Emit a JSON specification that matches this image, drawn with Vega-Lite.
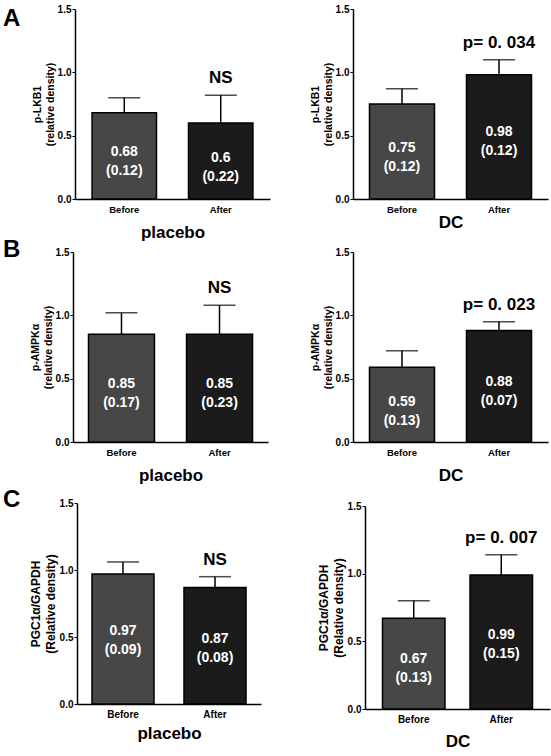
{
  "$schema": "https://vega.github.io/schema/vega-lite/v6.json",
  "autosize": {"type": "none"},
  "padding": {"left": 73, "top": 9, "right": 478, "bottom": 747},
  "columns": 2,
  "spacing": {"row": 43, "column": 83},
  "bounds": "flush",
  "data": {"values": [
    {"marker": "LKB1", "group": "placebo", "time": "Before", "mean": 0.68, "sem": 0.12, "note": ""},
    {"marker": "LKB1", "group": "placebo", "time": "After", "mean": 0.6, "sem": 0.22, "note": "NS"},
    {"marker": "LKB1", "group": "DC", "time": "Before", "mean": 0.75, "sem": 0.12, "note": ""},
    {"marker": "LKB1", "group": "DC", "time": "After", "mean": 0.98, "sem": 0.12, "note": "p= 0. 034"},
    {"marker": "AMPK", "group": "placebo", "time": "Before", "mean": 0.85, "sem": 0.17, "note": ""},
    {"marker": "AMPK", "group": "placebo", "time": "After", "mean": 0.85, "sem": 0.23, "note": "NS"},
    {"marker": "AMPK", "group": "DC", "time": "Before", "mean": 0.59, "sem": 0.13, "note": ""},
    {"marker": "AMPK", "group": "DC", "time": "After", "mean": 0.88, "sem": 0.07, "note": "p= 0. 023"},
    {"marker": "PGC", "group": "placebo", "time": "Before", "mean": 0.97, "sem": 0.09, "note": ""},
    {"marker": "PGC", "group": "placebo", "time": "After", "mean": 0.87, "sem": 0.08, "note": "NS"},
    {"marker": "PGC", "group": "DC", "time": "Before", "mean": 0.67, "sem": 0.13, "note": ""},
    {"marker": "PGC", "group": "DC", "time": "After", "mean": 0.99, "sem": 0.15, "note": "p= 0. 007"}
  ]},
  "config": {
    "view": {"stroke": null},
    "font": "Liberation Sans",
    "axis": {"grid": false, "domainColor": "black", "domainWidth": 1.5, "tickColor": "black", "labelColor": "black", "titleColor": "black", "labelFontWeight": "bold", "titleFontWeight": "bold"},
    "axisY": {"tickSize": 3, "labelFontSize": 10, "labelPadding": 1, "titleFontSize": 10.5, "titleLineHeight": 13, "titlePadding": 2},
    "axisX": {"ticks": false, "labelFontSize": 9.5, "labelPadding": 5, "titleFontSize": 17, "labelAngle": 0},
    "title": {"fontSize": 24, "fontWeight": "bold", "anchor": "start", "frame": "group", "offset": 0, "color": "black"}
  },
  "concat": [
    {
      "width": 197, "height": 190,
      "title": {"text": "A", "dx": -70, "dy": 31},
      "transform": [
        {"filter": "datum.marker === 'LKB1' && datum.group === 'placebo'"},
        {"calculate": "datum.mean + datum.sem", "as": "upper"},
        {"calculate": "datum.mean * 0.54", "as": "labpos"},
        {"calculate": "[toString(datum.mean), '(' + format(datum.sem, '.2f') + ')']", "as": "lines"}
      ],
      "encoding": {"x": {"field": "time", "type": "nominal", "sort": ["Before", "After"], "scale": {"range": [2, 197], "paddingInner": 0.332, "paddingOuter": 0.177}, "axis": {"title": "placebo", "titlePadding": 11}}},
      "layer": [
        {"mark": {"type": "rule", "strokeWidth": 1.5, "color": "black"}, "encoding": {"y": {"field": "mean", "type": "quantitative", "title": ["p-LKB1", "(relative density)"], "scale": {"domain": [0, 1.5], "nice": false, "range": [190, 0]}, "axis": {"values": [0, 0.5, 1, 1.5], "format": ".1f", "offset": -2}}, "y2": {"field": "upper"}}},
        {"mark": {"type": "tick", "thickness": 1.5, "size": 32, "color": "black"}, "encoding": {"y": {"field": "upper", "type": "quantitative", "title": ["p-LKB1", "(relative density)"]}}},
        {"mark": {"type": "bar", "stroke": "black", "strokeWidth": 1.5}, "encoding": {"y": {"field": "mean", "type": "quantitative", "title": ["p-LKB1", "(relative density)"]}, "fill": {"field": "time", "type": "nominal", "scale": {"domain": ["Before", "After"], "range": ["#474747", "#1b1b1b"]}, "legend": null}}},
        {"mark": {"type": "text", "color": "white", "fontSize": 14, "fontWeight": "bold", "lineHeight": 19, "baseline": "middle"}, "encoding": {"y": {"field": "labpos", "type": "quantitative", "title": ["p-LKB1", "(relative density)"]}, "text": {"field": "lines"}}},
        {"mark": {"type": "text", "color": "black", "fontSize": 17, "fontWeight": "bold", "baseline": "middle", "dy": -17}, "encoding": {"y": {"field": "upper", "type": "quantitative", "title": ["p-LKB1", "(relative density)"]}, "text": {"field": "note"}}}
      ]
    },
    {
      "width": 197, "height": 190,
      "transform": [
        {"filter": "datum.marker === 'LKB1' && datum.group === 'DC'"},
        {"calculate": "datum.mean + datum.sem", "as": "upper"},
        {"calculate": "datum.mean * 0.54", "as": "labpos"},
        {"calculate": "[toString(datum.mean), '(' + format(datum.sem, '.2f') + ')']", "as": "lines"}
      ],
      "encoding": {"x": {"field": "time", "type": "nominal", "sort": ["Before", "After"], "scale": {"range": [0, 195], "paddingInner": 0.33, "paddingOuter": 0.17}, "axis": {"title": "DC", "titlePadding": 1}}},
      "layer": [
        {"mark": {"type": "rule", "strokeWidth": 1.5, "color": "black"}, "encoding": {"y": {"field": "mean", "type": "quantitative", "title": ["p-LKB1", "(relative density)"], "scale": {"domain": [0, 1.5], "nice": false, "range": [190, 0]}, "axis": {"values": [0, 0.5, 1, 1.5], "format": ".1f"}}, "y2": {"field": "upper"}}},
        {"mark": {"type": "tick", "thickness": 1.5, "size": 32, "color": "black"}, "encoding": {"y": {"field": "upper", "type": "quantitative", "title": ["p-LKB1", "(relative density)"]}}},
        {"mark": {"type": "bar", "stroke": "black", "strokeWidth": 1.5}, "encoding": {"y": {"field": "mean", "type": "quantitative", "title": ["p-LKB1", "(relative density)"]}, "fill": {"field": "time", "type": "nominal", "scale": {"domain": ["Before", "After"], "range": ["#474747", "#1b1b1b"]}, "legend": null}}},
        {"mark": {"type": "text", "color": "white", "fontSize": 14, "fontWeight": "bold", "lineHeight": 19, "baseline": "middle"}, "encoding": {"y": {"field": "labpos", "type": "quantitative", "title": ["p-LKB1", "(relative density)"]}, "text": {"field": "lines"}}},
        {"mark": {"type": "text", "color": "black", "fontSize": 17, "fontWeight": "bold", "baseline": "middle", "dy": -17}, "encoding": {"y": {"field": "upper", "type": "quantitative", "title": ["p-LKB1", "(relative density)"]}, "text": {"field": "note"}}}
      ]
    },
    {
      "width": 197, "height": 200,
      "title": {"text": "B", "dx": -70, "dy": 24},
      "transform": [
        {"filter": "datum.marker === 'AMPK' && datum.group === 'placebo'"},
        {"calculate": "datum.mean + datum.sem", "as": "upper"},
        {"calculate": "datum.mean * 0.54", "as": "labpos"},
        {"calculate": "[toString(datum.mean), '(' + format(datum.sem, '.2f') + ')']", "as": "lines"}
      ],
      "encoding": {"x": {"field": "time", "type": "nominal", "sort": ["Before", "After"], "scale": {"range": [0, 195], "paddingInner": 0.327, "paddingOuter": 0.158}, "axis": {"title": "placebo", "titlePadding": 11}}},
      "layer": [
        {"mark": {"type": "rule", "strokeWidth": 1.5, "color": "black"}, "encoding": {"y": {"field": "mean", "type": "quantitative", "title": ["p-AMPKα", "(relative density)"], "scale": {"domain": [0, 1.5], "nice": false, "range": [200, 10]}, "axis": {"values": [0, 0.5, 1, 1.5], "format": ".1f"}}, "y2": {"field": "upper"}}},
        {"mark": {"type": "tick", "thickness": 1.5, "size": 32, "color": "black"}, "encoding": {"y": {"field": "upper", "type": "quantitative", "title": ["p-AMPKα", "(relative density)"]}}},
        {"mark": {"type": "bar", "stroke": "black", "strokeWidth": 1.5}, "encoding": {"y": {"field": "mean", "type": "quantitative", "title": ["p-AMPKα", "(relative density)"]}, "fill": {"field": "time", "type": "nominal", "scale": {"domain": ["Before", "After"], "range": ["#474747", "#1b1b1b"]}, "legend": null}}},
        {"mark": {"type": "text", "color": "white", "fontSize": 14, "fontWeight": "bold", "lineHeight": 19, "baseline": "middle"}, "encoding": {"y": {"field": "labpos", "type": "quantitative", "title": ["p-AMPKα", "(relative density)"]}, "text": {"field": "lines"}}},
        {"mark": {"type": "text", "color": "black", "fontSize": 17, "fontWeight": "bold", "baseline": "middle", "dy": -17}, "encoding": {"y": {"field": "upper", "type": "quantitative", "title": ["p-AMPKα", "(relative density)"]}, "text": {"field": "note"}}}
      ]
    },
    {
      "width": 197, "height": 200,
      "transform": [
        {"filter": "datum.marker === 'AMPK' && datum.group === 'DC'"},
        {"calculate": "datum.mean + datum.sem", "as": "upper"},
        {"calculate": "datum.mean * 0.54", "as": "labpos"},
        {"calculate": "[toString(datum.mean), '(' + format(datum.sem, '.2f') + ')']", "as": "lines"}
      ],
      "encoding": {"x": {"field": "time", "type": "nominal", "sort": ["Before", "After"], "scale": {"range": [0, 195], "paddingInner": 0.33, "paddingOuter": 0.17}, "axis": {"title": "DC", "titlePadding": 11}}},
      "layer": [
        {"mark": {"type": "rule", "strokeWidth": 1.5, "color": "black"}, "encoding": {"y": {"field": "mean", "type": "quantitative", "title": ["p-AMPKα", "(relative density)"], "scale": {"domain": [0, 1.5], "nice": false, "range": [200, 10]}, "axis": {"values": [0, 0.5, 1, 1.5], "format": ".1f"}}, "y2": {"field": "upper"}}},
        {"mark": {"type": "tick", "thickness": 1.5, "size": 32, "color": "black"}, "encoding": {"y": {"field": "upper", "type": "quantitative", "title": ["p-AMPKα", "(relative density)"]}}},
        {"mark": {"type": "bar", "stroke": "black", "strokeWidth": 1.5}, "encoding": {"y": {"field": "mean", "type": "quantitative", "title": ["p-AMPKα", "(relative density)"]}, "fill": {"field": "time", "type": "nominal", "scale": {"domain": ["Before", "After"], "range": ["#474747", "#2a2a2a"]}, "legend": null}}},
        {"mark": {"type": "text", "color": "white", "fontSize": 14, "fontWeight": "bold", "lineHeight": 19, "baseline": "middle"}, "encoding": {"y": {"field": "labpos", "type": "quantitative", "title": ["p-AMPKα", "(relative density)"]}, "text": {"field": "lines"}}},
        {"mark": {"type": "text", "color": "black", "fontSize": 17, "fontWeight": "bold", "baseline": "middle", "dy": -17}, "encoding": {"y": {"field": "upper", "type": "quantitative", "title": ["p-AMPKα", "(relative density)"]}, "text": {"field": "note"}}}
      ]
    },
    {
      "width": 197, "height": 219,
      "title": {"text": "C", "dx": -70, "dy": 31},
      "transform": [
        {"filter": "datum.marker === 'PGC' && datum.group === 'placebo'"},
        {"calculate": "datum.mean + datum.sem", "as": "upper"},
        {"calculate": "datum.mean * 0.56", "as": "labpos"},
        {"calculate": "[toString(datum.mean), '(' + format(datum.sem, '.2f') + ')']", "as": "lines"}
      ],
      "encoding": {"x": {"field": "time", "type": "nominal", "sort": ["Before", "After"], "scale": {"range": [4, 188], "paddingInner": 0.326, "paddingOuter": 0.163}, "axis": {"title": "placebo", "titlePadding": 6, "labelFontSize": 10}}},
      "layer": [
        {"mark": {"type": "rule", "strokeWidth": 1.5, "color": "black"}, "encoding": {"y": {"field": "mean", "type": "quantitative", "title": ["PGC1α/GAPDH", "(Relative density)"], "scale": {"domain": [0, 1.5], "nice": false, "range": [219, 18]}, "axis": {"titleFontSize": 12, "titleLineHeight": 15, "labelFontSize": 10, "values": [0, 0.5, 1, 1.5], "format": ".1f", "offset": -4}}, "y2": {"field": "upper"}}},
        {"mark": {"type": "tick", "thickness": 1.5, "size": 32, "color": "black"}, "encoding": {"y": {"field": "upper", "type": "quantitative", "title": ["PGC1α/GAPDH", "(Relative density)"]}}},
        {"mark": {"type": "bar", "stroke": "black", "strokeWidth": 1.5}, "encoding": {"y": {"field": "mean", "type": "quantitative", "title": ["PGC1α/GAPDH", "(Relative density)"]}, "fill": {"field": "time", "type": "nominal", "scale": {"domain": ["Before", "After"], "range": ["#474747", "#1b1b1b"]}, "legend": null}}},
        {"mark": {"type": "text", "color": "white", "fontSize": 14, "fontWeight": "bold", "lineHeight": 19, "baseline": "middle"}, "encoding": {"y": {"field": "labpos", "type": "quantitative", "title": ["PGC1α/GAPDH", "(Relative density)"]}, "text": {"field": "lines"}}},
        {"mark": {"type": "text", "color": "black", "fontSize": 17, "fontWeight": "bold", "baseline": "middle", "dy": -17}, "encoding": {"y": {"field": "upper", "type": "quantitative", "title": ["PGC1α/GAPDH", "(Relative density)"]}, "text": {"field": "note"}}}
      ]
    },
    {
      "width": 197, "height": 224,
      "transform": [
        {"filter": "datum.marker === 'PGC' && datum.group === 'DC'"},
        {"calculate": "datum.mean + datum.sem", "as": "upper"},
        {"calculate": "datum.mean * 0.55", "as": "labpos"},
        {"calculate": "[toString(datum.mean), '(' + format(datum.sem, '.2f') + ')']", "as": "lines"}
      ],
      "encoding": {"x": {"field": "time", "type": "nominal", "sort": ["Before", "After"], "scale": {"range": [12, 197], "paddingInner": 0.286, "paddingOuter": 0.2}, "axis": {"title": "DC", "titlePadding": 9, "labelFontSize": 10}}},
      "layer": [
        {"mark": {"type": "rule", "strokeWidth": 1.5, "color": "black"}, "encoding": {"y": {"field": "mean", "type": "quantitative", "title": ["PGC1α/GAPDH", "(Relative density)"], "scale": {"domain": [0, 1.5], "nice": false, "range": [224, 21]}, "axis": {"titleFontSize": 12, "titleLineHeight": 15, "labelFontSize": 10, "values": [0, 0.5, 1, 1.5], "format": ".1f", "offset": -12}}, "y2": {"field": "upper"}}},
        {"mark": {"type": "tick", "thickness": 1.5, "size": 32, "color": "black"}, "encoding": {"y": {"field": "upper", "type": "quantitative", "title": ["PGC1α/GAPDH", "(Relative density)"]}}},
        {"mark": {"type": "bar", "stroke": "black", "strokeWidth": 1.5}, "encoding": {"y": {"field": "mean", "type": "quantitative", "title": ["PGC1α/GAPDH", "(Relative density)"]}, "fill": {"field": "time", "type": "nominal", "scale": {"domain": ["Before", "After"], "range": ["#474747", "#1b1b1b"]}, "legend": null}}},
        {"mark": {"type": "text", "color": "white", "fontSize": 14, "fontWeight": "bold", "lineHeight": 19, "baseline": "middle"}, "encoding": {"y": {"field": "labpos", "type": "quantitative", "title": ["PGC1α/GAPDH", "(Relative density)"]}, "text": {"field": "lines"}}},
        {"mark": {"type": "text", "color": "black", "fontSize": 17, "fontWeight": "bold", "baseline": "middle", "dy": -17}, "encoding": {"y": {"field": "upper", "type": "quantitative", "title": ["PGC1α/GAPDH", "(Relative density)"]}, "text": {"field": "note"}}}
      ]
    }
  ]
}
